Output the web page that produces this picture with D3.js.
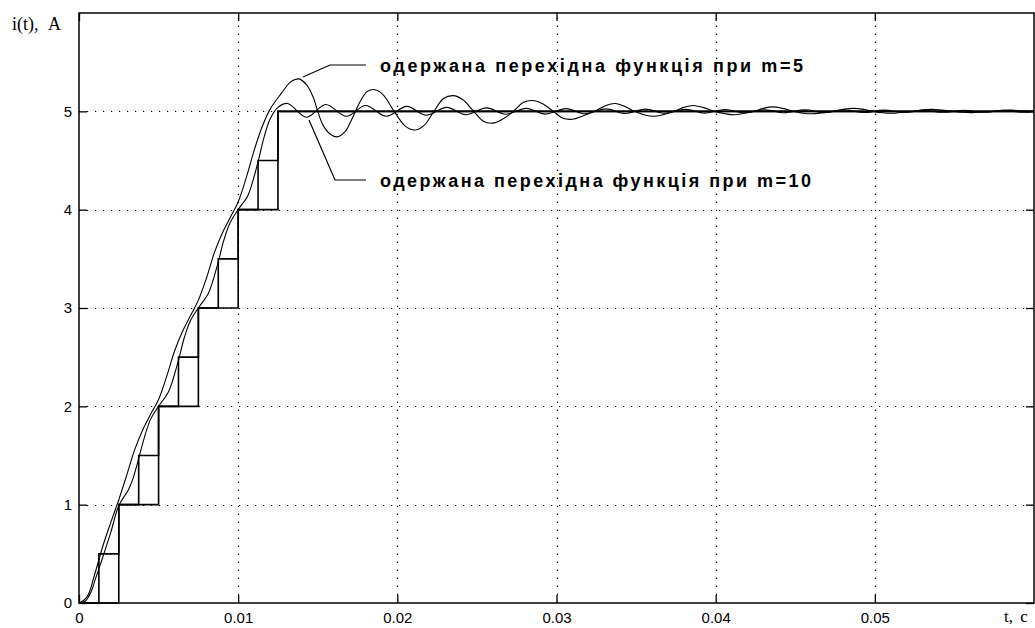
<!DOCTYPE html>
<html>
<head>
<meta charset="utf-8">
<script src="https://cdn.jsdelivr.net/npm/d3@7"></script>
<style>
  body { margin: 0; background: #fff; }
  svg { display: block; }
</style>
</head>
<body>
<div id="chart"></div>
<script>
// tick values
const xTicks = [0, 0.01, 0.02, 0.03, 0.04, 0.05];
const yTicks = [0, 1, 2, 3, 4, 5];

// staircases (time of step, level)
const stairsM5 = [[0, 0], [0.0025, 1], [0.005, 2], [0.0075, 3], [0.01, 4], [0.0125, 5], [0.06, 5]];
const stairsM10 = [[0, 0], [0.00125, 0.5], [0.0025, 1], [0.00375, 1.5], [0.005, 2], [0.00625, 2.5],
  [0.0075, 3], [0.00875, 3.5], [0.01, 4], [0.01125, 4.5], [0.0125, 5], [0.06, 5]];

// transition function, m=5
const curveM5 = [[0, 0], [0.0005, 0.06], [0.001, 0.3], [0.0015, 0.58], [0.002, 0.82], [0.0025, 1.05],
  [0.003, 1.3], [0.0035, 1.56], [0.004, 1.76], [0.0045, 1.92], [0.005, 2.07], [0.0055, 2.3],
  [0.006, 2.56], [0.0065, 2.76], [0.007, 2.92], [0.0075, 3.08], [0.008, 3.3], [0.0085, 3.56],
  [0.009, 3.76], [0.0095, 3.92], [0.01, 4.08], [0.0105, 4.32], [0.011, 4.6], [0.0115, 4.84],
  [0.012, 5.02], [0.0127, 5.18], [0.0133, 5.3], [0.0138, 5.33], [0.0143, 5.27], [0.0147, 5.15],
  [0.015, 5.0], [0.0153, 4.87], [0.0157, 4.78], [0.0162, 4.74], [0.0167, 4.79], [0.0172, 4.94],
  [0.0176, 5.08], [0.0181, 5.2], [0.0186, 5.22], [0.0191, 5.17], [0.0198, 5.0], [0.0205, 4.85],
  [0.0211, 4.81], [0.0217, 4.86], [0.0223, 5.0], [0.0229, 5.13], [0.0235, 5.16], [0.0241, 5.12],
  [0.0248, 5.0], [0.0254, 4.9], [0.026, 4.88], [0.0266, 4.92], [0.0273, 5.0], [0.0279, 5.09],
  [0.0285, 5.11], [0.0291, 5.08], [0.0298, 5.0], [0.0304, 4.93], [0.031, 4.92], [0.0316, 4.95],
  [0.0324, 5.0], [0.0331, 5.06], [0.0337, 5.08], [0.0343, 5.05], [0.0349, 5.0], [0.0356, 4.96],
  [0.0362, 4.95], [0.0368, 4.97], [0.0374, 5.0], [0.038, 5.04], [0.0386, 5.06], [0.0392, 5.04],
  [0.0399, 5.0], [0.0406, 4.975], [0.0412, 4.965], [0.0418, 4.98], [0.0424, 5.0], [0.043, 5.03],
  [0.0436, 5.045], [0.0442, 5.03], [0.0449, 5.0], [0.0455, 4.98], [0.0461, 4.975], [0.0467, 4.985],
  [0.0474, 5.0], [0.048, 5.02], [0.0487, 5.03], [0.0493, 5.02], [0.0499, 5.0], [0.0505, 4.985],
  [0.0511, 4.98], [0.0517, 4.99], [0.0524, 5.0], [0.053, 5.015], [0.0536, 5.02], [0.0542, 5.012],
  [0.0549, 5.0], [0.0555, 4.99], [0.0561, 4.987], [0.0567, 4.993], [0.0574, 5.0], [0.058, 5.01],
  [0.0586, 5.012], [0.0592, 5.006], [0.06, 5.0]];

// transition function, m=10
const curveM10 = [[0, 0], [0.0004, 0.02], [0.00075, 0.11], [0.001, 0.23], [0.0014, 0.42], [0.002, 0.72],
  [0.0025, 0.99], [0.0031, 1.15], [0.0034, 1.27], [0.0038, 1.5], [0.0041, 1.68], [0.0045, 1.87],
  [0.005, 2.0], [0.0056, 2.14], [0.0059, 2.27], [0.0063, 2.5], [0.0066, 2.69], [0.007, 2.87],
  [0.0075, 3.0], [0.0081, 3.14], [0.0084, 3.27], [0.0088, 3.5], [0.0091, 3.69], [0.0095, 3.87],
  [0.01, 4.0], [0.0106, 4.14], [0.0109, 4.28], [0.0113, 4.52], [0.0116, 4.72], [0.012, 4.92],
  [0.0125, 5.04], [0.0131, 5.08], [0.0143, 4.94], [0.0155, 5.07], [0.0168, 4.95], [0.018, 5.06],
  [0.0193, 4.95], [0.0206, 5.05], [0.0218, 4.96], [0.0231, 5.04], [0.0243, 4.965], [0.0256, 5.035],
  [0.0268, 4.97], [0.0281, 5.03], [0.0293, 4.972], [0.0306, 5.028], [0.0318, 4.975], [0.0331, 5.025],
  [0.0343, 4.978], [0.0356, 5.022], [0.0368, 4.98], [0.0381, 5.02], [0.0393, 4.982], [0.0406, 5.018],
  [0.0418, 4.984], [0.0431, 5.016], [0.0443, 4.985], [0.0456, 5.015], [0.0468, 4.986], [0.0481, 5.014],
  [0.0493, 4.988], [0.0506, 5.012], [0.0518, 4.99], [0.0531, 5.01], [0.0543, 4.99], [0.0556, 5.01],
  [0.0568, 4.99], [0.0581, 5.01], [0.0593, 4.99], [0.06, 5.0]];

const labelM5 = 'одержана перехідна функція при m=5';
const labelM10 = 'одержана перехідна функція при m=10';

const width = 1035;
const height = 628;
const plotLeft = 79, plotRight = 1034, plotTop = 13, plotBottom = 603;

const svg = d3.select('#chart')
              .append('svg')
              .attr('width', width)
              .attr('height', height);

const x = d3.scaleLinear().domain([0, 0.06]).range([plotLeft, plotRight]);
const y = d3.scaleLinear().domain([0, 6]).range([plotBottom, plotTop]);

// dotted grid
const grid = svg.append('g')
                .attr('stroke', '#000')
                .attr('stroke-width', 1.2)
                .attr('stroke-dasharray', '1.2,6.8');

grid.selectAll('.gx')
    .data(xTicks.slice(1))
    .join('line')
    .attr('x1', d => Math.round(x(d)) + 0.5)
    .attr('x2', d => Math.round(x(d)) + 0.5)
    .attr('y1', plotBottom)
    .attr('y2', plotTop);

grid.selectAll('.gy')
    .data(yTicks.slice(1))
    .join('line')
    .attr('x1', plotLeft)
    .attr('x2', plotRight)
    .attr('y1', d => Math.round(y(d)) + 0.5)
    .attr('y2', d => Math.round(y(d)) + 0.5);

// axes with inward ticks
const fmt = d => d === 0 ? '0' : d3.format('.2f')(d);

svg.append('g')
   .attr('transform', 'translate(0,' + plotBottom + ')')
   .call(d3.axisBottom(x).tickValues(xTicks).tickFormat(fmt).tickSizeInner(-8).tickSizeOuter(0).tickPadding(9));

svg.append('g')
   .attr('transform', 'translate(' + plotLeft + ',0)')
   .call(d3.axisLeft(y).tickValues(yTicks).tickFormat(d3.format('d')).tickSizeInner(-8).tickSizeOuter(0).tickPadding(7));

svg.append('g')
   .attr('transform', 'translate(0,' + plotTop + ')')
   .call(d3.axisTop(x).tickValues(xTicks).tickFormat('').tickSizeInner(-8).tickSizeOuter(0));

svg.append('g')
   .attr('transform', 'translate(' + plotRight + ',0)')
   .call(d3.axisRight(y).tickValues(yTicks).tickFormat('').tickSizeInner(-8).tickSizeOuter(0));

svg.selectAll('.domain').remove();
svg.selectAll('.tick line').attr('stroke', '#000').attr('stroke-width', 1.3);
svg.selectAll('.tick text')
   .attr('font-family', 'Liberation Sans, Arial, sans-serif')
   .attr('font-size', 15)
   .attr('fill', '#000');

// staircases
const stepLine = d3.line()
                   .x(d => x(d[0]))
                   .y(d => y(d[1]))
                   .curve(d3.curveStepAfter);

[stairsM5, stairsM10].forEach(s => {
  svg.append('path')
     .datum(s)
     .attr('fill', 'none')
     .attr('stroke', '#000')
     .attr('stroke-width', 1.6)
     .attr('d', stepLine);
});

// smooth curves
const smoothLine = d3.line()
                     .x(d => x(d[0]))
                     .y(d => y(d[1]))
                     .curve(d3.curveCatmullRom);

[curveM5, curveM10].forEach(c => {
  svg.append('path')
     .datum(c)
     .attr('fill', 'none')
     .attr('stroke', '#000')
     .attr('stroke-width', 1.1)
     .attr('d', smoothLine);
});

// frame
svg.append('rect')
   .attr('x', plotLeft)
   .attr('y', plotTop)
   .attr('width', plotRight - plotLeft)
   .attr('height', plotBottom - plotTop)
   .attr('fill', 'none')
   .attr('stroke', '#000')
   .attr('stroke-width', 1.5);

// annotations with leader lines
svg.append('polyline')
   .attr('points', '303,77 330,65 366,65')
   .attr('fill', 'none')
   .attr('stroke', '#000')
   .attr('stroke-width', 1.2);

svg.append('polyline')
   .attr('points', '309,120 335,180 366,180')
   .attr('fill', 'none')
   .attr('stroke', '#000')
   .attr('stroke-width', 1.2);

svg.append('text')
   .attr('x', 380)
   .attr('y', 72)
   .attr('font-family', 'Liberation Sans, Arial, sans-serif')
   .attr('font-weight', 'bold')
   .attr('font-size', 18)
   .attr('textLength', 423)
   .attr('lengthAdjust', 'spacing')
   .text(labelM5);

svg.append('text')
   .attr('x', 380)
   .attr('y', 187)
   .attr('font-family', 'Liberation Sans, Arial, sans-serif')
   .attr('font-weight', 'bold')
   .attr('font-size', 18)
   .attr('textLength', 431)
   .attr('lengthAdjust', 'spacing')
   .text(labelM10);

// axis titles
svg.append('text')
   .attr('x', 12)
   .attr('y', 30)
   .attr('font-family', 'Liberation Serif, Times New Roman, serif')
   .attr('font-size', 18)
   .attr('word-spacing', 6)
   .text('i(t), A');

svg.append('text')
   .attr('x', 1004)
   .attr('y', 622)
   .attr('font-family', 'Liberation Serif, Times New Roman, serif')
   .attr('font-size', 17)
   .attr('word-spacing', 3)
   .text('t, c');
</script>
</body>
</html>
